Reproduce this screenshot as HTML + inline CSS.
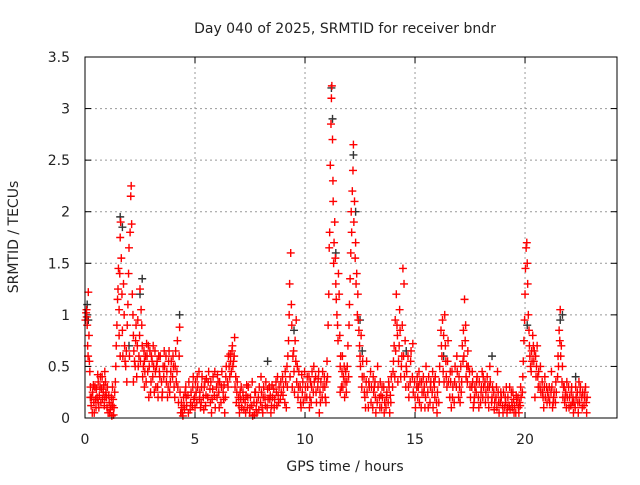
<!DOCTYPE html>
<html><head><meta charset="utf-8"><style>
body{margin:0;background:#fff}
svg text{font-family:"DejaVu Sans","Liberation Sans",sans-serif;font-size:14px;fill:#222}
</style></head><body>
<svg id="chart" width="640" height="480" xmlns="http://www.w3.org/2000/svg">
<text x="345" y="33" text-anchor="middle">Day 040 of 2025, SRMTID for receiver bndr</text>
<text x="345" y="471" text-anchor="middle">GPS time / hours</text>
<text x="18" y="237" text-anchor="middle" transform="rotate(-90 18 237)">SRMTID / TECUs</text>
<g id="grid"></g>
<g id="ticks"></g>
<g id="blackSeries"></g>
<g id="redSeries"></g>
<rect x="85" y="57" width="532" height="361" fill="none" stroke="#000" stroke-width="1"/>
</svg>
<script>
const xTicks=[0,5,10,15,20];
const yTicks=[0,0.5,1,1.5,2,2.5,3,3.5];
const yTickLabels=["0","0.5","1","1.5","2","2.5","3","3.5"];
const blackPoints=[[0.1,1.1],[0.15,0.95],[1.6,1.95],[1.7,1.85],[2.6,1.35],[2.5,1.2],[4.3,1.0],[8.3,0.55],[9.5,0.85],[11.2,3.2],[11.25,2.9],[11.4,1.6],[12.2,2.55],[12.3,2.0],[12.5,0.95],[14.6,0.65],[16.3,0.6],[18.5,0.6],[20.1,0.9],[21.6,0.95],[21.7,1.0],[22.3,0.4],[12.6,0.65],[2.0,0.7]];
const redPoints=[
[0.05,1.02],[0.08,0.98],[0.1,0.9],[0.12,0.7],[0.15,1.22],[0.18,0.8],[0.2,0.55],[0.22,0.45],[0.25,0.3],[0.28,0.12],[0.3,0.2],[0.33,0.05],[0.35,0.25],[0.4,0.15],[0.45,0.3],[0.5,0.1],[0.55,0.2],[0.6,0.35],[0.65,0.22],[0.7,0.4],[0.75,0.28],[0.8,0.18],[0.85,0.32],[0.9,0.45],[0.95,0.25],[1.0,0.1],[1.05,0.05],[1.1,0.15],[1.15,0.08],[1.2,0.2],[1.25,0.12],[1.3,0.03],[1.35,0.25],[1.4,0.5],[1.45,0.9],[1.5,1.25],[1.52,1.45],[1.55,1.05],[1.6,1.75],[1.62,1.9],[1.65,1.55],[1.7,0.85],[1.72,0.6],[1.75,1.3],[1.8,0.7],[1.85,0.5],[1.9,0.35],[1.95,1.1],[2.0,1.65],[2.05,1.8],[2.08,2.15],[2.1,2.25],[2.12,1.88],[2.15,1.2],[2.2,0.8],[2.25,0.55],[2.3,0.75],[2.35,0.4],[2.4,0.95],[2.45,0.6],[2.5,1.25],[2.55,1.05],[2.6,0.7],[2.65,0.5],[2.7,0.3],[2.75,0.6],[2.8,0.72],[2.85,0.45],[2.9,0.2],[2.95,0.65],[3.0,0.35],[3.05,0.55],[3.1,0.7],[3.15,0.25],[3.2,0.45],[3.3,0.3],[3.35,0.6],[3.4,0.4],[3.5,0.2],[3.55,0.5],[3.6,0.65],[3.7,0.35],[3.8,0.55],[3.85,0.25],[3.9,0.45],[4.0,0.6],[4.05,0.3],[4.1,0.5],[4.2,0.75],[4.25,0.15],[4.3,0.88],[4.35,0.05],[4.4,0.1],[4.45,0.02],[4.5,0.12],[4.6,0.2],[4.7,0.05],[4.8,0.15],[4.9,0.3],[5.0,0.1],[5.05,0.25],[5.1,0.4],[5.2,0.18],[5.3,0.3],[5.4,0.08],[5.5,0.22],[5.6,0.35],[5.7,0.15],[5.8,0.28],[5.9,0.45],[6.0,0.2],[6.1,0.1],[6.2,0.3],[6.3,0.18],[6.4,0.4],[6.5,0.3],[6.55,0.5],[6.6,0.62],[6.65,0.45],[6.7,0.7],[6.75,0.55],[6.8,0.78],[6.85,0.4],[6.9,0.25],[7.0,0.12],[7.1,0.3],[7.2,0.18],[7.3,0.05],[7.4,0.2],[7.5,0.1],[7.6,0.35],[7.7,0.03],[7.8,0.15],[7.9,0.08],[8.0,0.4],[8.1,0.2],[8.2,0.12],[8.3,0.28],[8.4,0.18],[8.5,0.32],[8.6,0.1],[8.7,0.25],[8.8,0.15],[8.9,0.35],[9.0,0.22],[9.1,0.45],[9.2,0.3],[9.25,0.75],[9.3,1.3],[9.35,1.6],[9.38,1.1],[9.4,0.9],[9.45,0.6],[9.5,0.45],[9.55,0.75],[9.6,0.95],[9.65,0.5],[9.7,0.3],[9.8,0.15],[9.9,0.35],[10.0,0.2],[10.1,0.4],[10.2,0.1],[10.3,0.3],[10.4,0.5],[10.5,0.25],[10.6,0.38],[10.7,0.15],[10.8,0.45],[10.9,0.3],[11.0,0.55],[11.05,0.9],[11.1,1.65],[11.15,2.45],[11.18,2.85],[11.2,3.1],[11.22,3.22],[11.25,2.7],[11.28,2.1],[11.3,1.5],[11.35,1.9],[11.4,1.3],[11.45,1.0],[11.5,0.75],[11.55,1.2],[11.6,0.5],[11.65,0.3],[11.7,0.6],[11.75,0.4],[11.8,0.2],[11.85,0.45],[11.9,0.35],[11.95,0.7],[12.0,0.9],[12.05,1.35],[12.1,2.0],[12.15,2.2],[12.2,2.65],[12.25,2.1],[12.3,1.7],[12.35,1.4],[12.4,1.2],[12.45,0.85],[12.5,0.6],[12.55,0.8],[12.6,0.4],[12.7,0.25],[12.8,0.55],[12.9,0.35],[13.0,0.15],[13.1,0.4],[13.2,0.2],[13.3,0.5],[13.4,0.1],[13.5,0.3],[13.6,0.05],[13.7,0.2],[13.8,0.35],[13.9,0.15],[14.0,0.45],[14.05,0.7],[14.1,0.95],[14.15,1.2],[14.2,0.8],[14.25,0.55],[14.3,1.05],[14.35,0.4],[14.4,0.6],[14.45,1.45],[14.5,1.3],[14.55,0.75],[14.6,0.5],[14.7,0.3],[14.8,0.55],[14.9,0.72],[15.0,0.2],[15.1,0.4],[15.2,0.15],[15.3,0.35],[15.4,0.25],[15.5,0.5],[15.6,0.1],[15.7,0.3],[15.8,0.45],[15.9,0.2],[16.0,0.05],[16.1,0.35],[16.2,0.7],[16.25,0.95],[16.3,0.8],[16.35,1.0],[16.4,0.55],[16.45,0.3],[16.5,0.75],[16.6,0.45],[16.7,0.2],[16.8,0.35],[16.9,0.6],[17.0,0.4],[17.1,0.25],[17.15,0.7],[17.2,0.85],[17.25,1.15],[17.3,0.9],[17.35,0.5],[17.4,0.65],[17.5,0.3],[17.6,0.45],[17.7,0.2],[17.8,0.35],[17.9,0.1],[18.0,0.25],[18.1,0.4],[18.2,0.15],[18.3,0.3],[18.4,0.5],[18.5,0.2],[18.6,0.08],[18.7,0.3],[18.8,0.15],[18.9,0.25],[19.0,0.05],[19.1,0.2],[19.2,0.1],[19.3,0.3],[19.4,0.15],[19.5,0.05],[19.6,0.22],[19.7,0.1],[19.8,0.3],[19.9,0.4],[19.95,0.75],[20.0,1.2],[20.05,1.65],[20.08,1.7],[20.1,1.5],[20.15,1.0],[20.2,0.7],[20.25,0.5],[20.3,0.65],[20.35,0.8],[20.4,0.55],[20.5,0.4],[20.55,0.7],[20.6,0.3],[20.7,0.5],[20.8,0.25],[20.9,0.4],[21.0,0.15],[21.1,0.3],[21.2,0.45],[21.3,0.2],[21.4,0.35],[21.5,0.6],[21.55,0.85],[21.6,1.05],[21.65,0.7],[21.7,0.5],[21.75,0.3],[21.8,0.15],[21.9,0.35],[22.0,0.1],[22.1,0.25],[22.2,0.05],[22.3,0.3],[22.4,0.15],[22.5,0.25],[22.6,0.1],[22.7,0.2],[22.8,0.05],
[0.6,0.15],[0.9,0.2],[1.25,0.3],[1.6,0.6],[2.2,0.35],[2.7,0.55],[3.25,0.5],[3.75,0.2],[4.15,0.35],[4.55,0.25],[4.95,0.18],[5.25,0.1],[5.45,0.35],[5.75,0.05],[6.05,0.35],[6.35,0.05],[7.05,0.25],[7.35,0.32],[7.75,0.25],[8.05,0.1],[8.45,0.05],[8.75,0.4],[9.15,0.1],[9.85,0.42],[10.25,0.35],[10.65,0.05],[10.95,0.15],[11.6,0.25],[12.75,0.1],[13.15,0.3],[13.45,0.22],[13.85,0.05],[15.15,0.3],[15.45,0.1],[15.85,0.35],[16.65,0.1],[17.05,0.15],[17.65,0.1],[18.05,0.45],[18.35,0.1],[18.75,0.45],[19.15,0.3],[19.45,0.25],[19.75,0.15],[20.45,0.2],[20.85,0.1],[21.25,0.1],[21.85,0.25],[22.15,0.15],[22.45,0.35],[22.75,0.3]
];
const redPointsExtra=[
[0.02,0.95],[0.07,1.05],[0.14,0.6],[0.24,0.2],[0.38,0.32],[0.42,0.05],[0.48,0.18],[0.52,0.28],[0.58,0.42],[0.63,0.1],[0.68,0.3],[0.72,0.15],[0.78,0.4],[0.83,0.25],[0.88,0.12],[0.93,0.35],[0.98,0.2],[1.02,0.3],[1.08,0.22],[1.12,0.05],[1.18,0.12],[1.22,0.02],[1.28,0.18],[1.32,0.1],[1.38,0.35],[1.42,0.7],[1.48,1.15],[1.55,0.8],[1.58,1.4],[1.68,1.2],[1.78,1.0],[1.82,0.55],[1.88,0.65],[1.92,0.9],[1.98,1.4],[2.02,0.6],[2.18,1.0],[2.22,0.65],[2.28,0.5],[2.32,0.9],[2.38,0.7],[2.42,0.5],[2.48,0.8],[2.52,0.55],[2.58,0.9],[2.62,0.4],[2.68,0.65],[2.72,0.45],[2.78,0.35],[2.82,0.6],[2.88,0.7],[2.92,0.5],[2.98,0.25],[3.02,0.6],[3.08,0.4],[3.12,0.5],[3.18,0.65],[3.22,0.3],[3.28,0.55],[3.32,0.2],[3.38,0.45],[3.42,0.6],[3.48,0.35],[3.52,0.25],[3.58,0.4],[3.62,0.5],[3.68,0.6],[3.72,0.45],[3.78,0.3],[3.82,0.65],[3.88,0.35],[3.92,0.55],[3.98,0.4],[4.02,0.5],[4.08,0.2],[4.12,0.65],[4.18,0.45],[4.22,0.3],[4.28,0.6],[4.32,0.25],[4.38,0.15],[4.42,0.05],[4.48,0.2],[4.52,0.08],[4.58,0.3],[4.62,0.12],[4.68,0.22],[4.72,0.35],[4.78,0.08],[4.82,0.25],[4.88,0.12],[4.92,0.4],[4.98,0.2],[5.02,0.35],[5.08,0.15],[5.12,0.3],[5.18,0.45],[5.22,0.25],[5.28,0.15],[5.32,0.4],[5.38,0.2],[5.42,0.3],[5.48,0.12],[5.52,0.38],[5.58,0.2],[5.62,0.45],[5.68,0.28],[5.72,0.35],[5.78,0.18],[5.82,0.4],[5.88,0.22],[5.92,0.1],[5.98,0.3],[6.02,0.42],[6.08,0.25],[6.12,0.35],[6.18,0.15],[6.22,0.45],[6.28,0.25],[6.32,0.32],[6.38,0.2],[6.42,0.5],[6.48,0.35],[6.52,0.6],[6.58,0.4],[6.62,0.55],[6.68,0.65],[6.72,0.5],[6.78,0.6],[6.82,0.3],[6.88,0.15],[6.92,0.35],[6.98,0.2],[7.02,0.05],[7.08,0.18],[7.12,0.1],[7.18,0.25],[7.22,0.08],[7.28,0.15],[7.32,0.22],[7.38,0.1],[7.42,0.3],[7.48,0.05],[7.52,0.2],[7.58,0.12],[7.62,0.02],[7.68,0.15],[7.72,0.25],[7.78,0.08],[7.82,0.05],[7.88,0.2],[7.92,0.3],[7.98,0.15],[8.02,0.25],[8.08,0.05],[8.12,0.3],[8.18,0.2],[8.22,0.35],[8.28,0.1],[8.32,0.18],[8.38,0.3],[8.42,0.22],[8.48,0.12],[8.52,0.2],[8.58,0.28],[8.62,0.18],[8.68,0.35],[8.72,0.12],[8.78,0.22],[8.82,0.3],[8.88,0.18],[8.92,0.25],[8.98,0.4],[9.02,0.3],[9.08,0.15],[9.12,0.35],[9.18,0.5],[9.22,0.6],[9.28,1.0],[9.32,0.4],[9.42,0.3],[9.48,0.65],[9.52,0.25],[9.58,0.55],[9.62,0.35],[9.68,0.2],[9.72,0.45],[9.78,0.3],[9.82,0.1],[9.88,0.25],[9.92,0.15],[9.98,0.45],[10.02,0.3],[10.08,0.2],[10.12,0.3],[10.18,0.4],[10.22,0.2],[10.28,0.15],[10.32,0.45],[10.38,0.25],[10.42,0.35],[10.48,0.4],[10.52,0.15],[10.58,0.3],[10.62,0.45],[10.68,0.25],[10.72,0.35],[10.78,0.2],[10.82,0.3],[10.88,0.4],[10.92,0.2],[10.98,0.35],[11.02,0.4],[11.08,1.2],[11.12,1.8],[11.27,2.3],[11.32,1.7],[11.38,1.55],[11.42,1.15],[11.48,0.9],[11.52,1.4],[11.58,0.8],[11.62,0.6],[11.68,0.45],[11.72,0.3],[11.78,0.5],[11.82,0.35],[11.88,0.25],[11.92,0.5],[11.98,0.4],[12.02,1.1],[12.08,1.6],[12.12,1.8],[12.18,2.4],[12.22,1.9],[12.28,1.55],[12.32,1.3],[12.38,1.0],[12.42,0.95],[12.48,0.7],[12.52,0.5],[12.58,0.3],[12.62,0.55],[12.68,0.4],[12.72,0.2],[12.78,0.35],[12.82,0.25],[12.88,0.1],[12.92,0.3],[12.98,0.45],[13.02,0.3],[13.08,0.1],[13.12,0.25],[13.18,0.35],[13.22,0.05],[13.28,0.15],[13.32,0.3],[13.38,0.2],[13.42,0.35],[13.48,0.1],[13.52,0.2],[13.58,0.3],[13.62,0.15],[13.68,0.1],[13.72,0.25],[13.78,0.15],[13.82,0.3],[13.88,0.22],[13.92,0.4],[13.98,0.3],[14.02,0.55],[14.08,0.4],[14.12,0.65],[14.18,0.9],[14.22,0.35],[14.28,0.7],[14.32,0.85],[14.38,0.5],[14.42,0.9],[14.48,0.6],[14.52,0.4],[14.58,0.3],[14.62,0.45],[14.68,0.6],[14.72,0.2],[14.78,0.35],[14.82,0.65],[14.88,0.4],[14.92,0.25],[14.98,0.35],[15.02,0.1],[15.08,0.3],[15.12,0.2],[15.18,0.45],[15.22,0.35],[15.28,0.1],[15.32,0.25],[15.38,0.4],[15.42,0.3],[15.48,0.2],[15.52,0.35],[15.58,0.25],[15.62,0.4],[15.68,0.15],[15.72,0.35],[15.78,0.25],[15.82,0.1],[15.88,0.3],[15.92,0.4],[15.98,0.15],[16.02,0.25],[16.08,0.15],[16.12,0.5],[16.18,0.85],[16.22,0.6],[16.28,0.45],[16.32,0.35],[16.38,0.7],[16.42,0.4],[16.48,0.55],[16.52,0.35],[16.58,0.2],[16.62,0.35],[16.68,0.45],[16.72,0.3],[16.78,0.15],[16.82,0.5],[16.88,0.3],[16.92,0.45],[16.98,0.2],[17.02,0.3],[17.08,0.5],[17.12,0.35],[17.18,0.55],[17.22,0.6],[17.28,0.75],[17.32,0.4],[17.38,0.35],[17.42,0.5],[17.48,0.45],[17.52,0.2],[17.58,0.3],[17.62,0.35],[17.68,0.15],[17.72,0.3],[17.78,0.25],[17.82,0.4],[17.88,0.2],[17.92,0.35],[17.98,0.15],[18.02,0.3],[18.08,0.2],[18.12,0.3],[18.18,0.35],[18.22,0.25],[18.28,0.4],[18.32,0.2],[18.38,0.3],[18.42,0.35],[18.48,0.15],[18.52,0.3],[18.58,0.25],[18.62,0.15],[18.68,0.2],[18.72,0.1],[18.78,0.25],[18.82,0.05],[18.88,0.15],[18.92,0.2],[18.98,0.12],[19.02,0.25],[19.08,0.1],[19.12,0.15],[19.18,0.05],[19.22,0.2],[19.28,0.12],[19.32,0.08],[19.38,0.25],[19.42,0.1],[19.48,0.18],[19.52,0.12],[19.58,0.05],[19.62,0.15],[19.68,0.2],[19.72,0.05],[19.78,0.12],[19.82,0.2],[19.88,0.25],[19.92,0.55],[19.98,0.95],[20.02,1.45],[20.12,1.3],[20.18,0.85],[20.22,0.6],[20.28,0.45],[20.32,0.55],[20.38,0.7],[20.42,0.65],[20.48,0.6],[20.52,0.5],[20.58,0.4],[20.62,0.45],[20.68,0.3],[20.72,0.25],[20.78,0.35],[20.82,0.2],[20.88,0.3],[20.92,0.2],[20.98,0.3],[21.02,0.25],[21.08,0.2],[21.12,0.15],[21.18,0.25],[21.22,0.3],[21.28,0.15],[21.32,0.25],[21.38,0.15],[21.42,0.25],[21.48,0.4],[21.52,0.5],[21.58,0.75],[21.62,0.6],[21.68,0.35],[21.72,0.2],[21.78,0.3],[21.82,0.2],[21.88,0.1],[21.92,0.2],[21.98,0.3],[22.02,0.2],[22.08,0.12],[22.12,0.3],[22.18,0.2],[22.22,0.15],[22.28,0.1],[22.32,0.2],[22.38,0.25],[22.42,0.05],[22.48,0.15],[22.52,0.3],[22.58,0.2],[22.62,0.25],[22.68,0.12],[22.72,0.25],[22.78,0.15],[22.82,0.2]
];
const X0=85,X1=617,Y0=418,Y1=57,XMAX=24.18,YMAX=3.5;
const sx=h=>X0+h/XMAX*(X1-X0);
const sy=v=>Y0-v/YMAX*(Y0-Y1);
const NS="http://www.w3.org/2000/svg";
function mk(tag,attrs,parent){const e=document.createElementNS(NS,tag);for(const k in attrs)e.setAttribute(k,attrs[k]);parent.appendChild(e);return e;}
const grid=document.getElementById('grid'),ticks=document.getElementById('ticks');
xTicks.forEach(t=>{const x=sx(t);
 if(t>0){const g=mk('line',{x1:x,y1:Y1,x2:x,y2:Y0,stroke:'#999','stroke-dasharray':'2,3'},grid);
 
 }
 mk('line',{x1:x,y1:Y0,x2:x,y2:Y0-6,stroke:'#000'},ticks);
 mk('line',{x1:x,y1:Y1,x2:x,y2:Y1+6,stroke:'#000'},ticks);
 const l=mk('text',{x:x,y:444,'text-anchor':'middle'},ticks);l.textContent=t;
 
 
});
yTicks.forEach((t,i)=>{const y=sy(t);
 if(t>0&&t<YMAX){const g=mk('line',{x1:X0,y1:y,x2:X1,y2:y,stroke:'#999','stroke-dasharray':'2,3'},grid);
 
 }
 mk('line',{x1:X0,y1:y,x2:X0+6,y2:y,stroke:'#000'},ticks);
 mk('line',{x1:X1,y1:y,x2:X1-6,y2:y,stroke:'#000'},ticks);
 const l=mk('text',{x:70,y:y+5,'text-anchor':'end'},ticks);l.textContent=yTickLabels[i];
 
 
});
function plus(p,color,parent,name){const x=sx(p[0]),y=sy(p[1]);
 const e=mk('path',{d:`M${x-4} ${y}H${x+4}M${x} ${y-4}V${y+4}`,stroke:color,'stroke-width':1.4,fill:'none'},parent);
 
 }
const bs=document.getElementById('blackSeries'),rs=document.getElementById('redSeries');
blackPoints.forEach(p=>plus(p,'#333',bs,'black-point'));
redPoints.forEach(p=>plus(p,'#f00',rs,'red-point'));
redPointsExtra.forEach(p=>plus(p,'#f00',rs,'red-point'));
</script>
</body></html>
